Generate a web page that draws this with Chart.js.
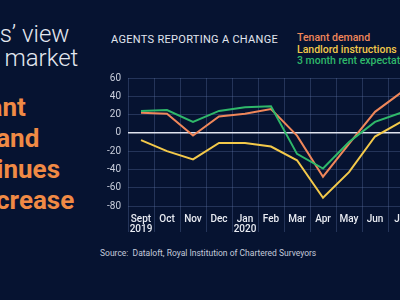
<!DOCTYPE html>
<html lang="en">
<head>
<meta charset="UTF-8">
<title>Agents reporting a change</title>
<script src="https://cdn.jsdelivr.net/npm/chart.js@4.4.0/dist/chart.umd.min.js"></script>
<style>
  html, body { margin:0; padding:0; width:400px; height:300px; overflow:hidden; background:#061331; font-family:Roboto, "Noto Sans", sans-serif; }
  #wrap { position:relative; width:400px; height:300px; overflow:hidden; }
  .lead { position:absolute; left:-62px; top:22px; color:#e4e8f0; font-size:24px; font-weight:300; line-height:24px; white-space:nowrap; }
  .head { position:absolute; left:-55px; top:92px; color:#f08a45; font-size:26px; font-weight:700; line-height:31px; white-space:nowrap; }
  .title { position:absolute; left:111px; top:33px; color:#e2e6ef; font-size:11px; letter-spacing:0.3px; white-space:nowrap; }
  .legend { position:absolute; left:297px; top:32px; font-size:10.5px; font-weight:500; line-height:11.5px; white-space:nowrap; }
  .src { position:absolute; left:100px; top:248px; color:#c4cadb; font-size:8.5px; white-space:nowrap; }
  #box { position:absolute; left:95px; top:65px; width:325px; height:180px; }
</style>
</head>
<body>
<div id="wrap">
  <div class="lead">Agents’ view<br>of the market</div>
  <div class="head">Tenant<br>demand<br>continues<br>to increase</div>
  <div class="title">AGENTS REPORTING A CHANGE</div>
  <div class="legend">
    <div style="color:#f0875a">Tenant demand</div>
    <div style="color:#f3c94a">Landlord instructions</div>
    <div style="color:#2fb86a">3 month rent expectations</div>
  </div>
  <div class="src">Source:&nbsp; Dataloft, Royal Institution of Chartered Surveyors</div>
  <div id="box"><canvas id="chart"></canvas></div>
</div>
<script>
const months = [['Sept','2019'],'Oct','Nov','Dec',['Jan','2020'],'Feb','Mar','Apr','May','Jun','Jul']
const tenantDemand = [22, 21, -3, 18, 21, 26, -3, -48, -12, 23, 44]
const landlordInstructions = [-8, -20, -29, -11, -11, -15, -30, -71, -43, -4, 12]
const rentExpectations = [24, 25, 12, 24, 28, 29, -23, -39, -10, 12, 22]

const gridColor = 'rgba(95,115,165,0.35)'

const ctx = document.getElementById('chart').getContext('2d')
new Chart(ctx, {
  type: 'line',
  data: {
    labels: months,
    datasets: [
      { label: '3 month rent expectations', data: rentExpectations, borderColor: '#2fb86a', borderWidth: 2, pointRadius: 0, tension: 0 },
      { label: 'Tenant demand', data: tenantDemand, borderColor: '#f0875a', borderWidth: 2, pointRadius: 0, tension: 0 },
      { label: 'Landlord instructions', data: landlordInstructions, borderColor: '#f3c94a', borderWidth: 2, pointRadius: 0, tension: 0 }
    ]
  },
  options: {
    responsive: true,
    maintainAspectRatio: false,
    animation: false,
    layout: { padding: { top: 3, right: 6, left: 0, bottom: 0 } },
    plugins: { legend: { display: false }, tooltip: { enabled: false } },
    scales: {
      x: {
        offset: true,
        grid: { offset: true, color: gridColor, tickLength: 26, tickColor: gridColor },
        border: { display: false },
        ticks: { color: '#e8ebf2', padding: -18, maxRotation: 0, autoSkip: false, font: { family: 'Roboto', size: 10, weight: '500', lineHeight: 1.0 } },
        afterFit: s => { s.height = 39 }
      },
      y: {
        min: -80, max: 60,
        grid: {
          drawTicks: false,
          color: c => c.tick && c.tick.value === 0 ? '#dfe3ee' : gridColor,
          lineWidth: c => c.tick && c.tick.value === 0 ? 1.5 : 1
        },
        border: { display: false },
        ticks: { stepSize: 20, color: '#c9cedc', padding: 7, font: { family: 'Roboto', size: 10 } },
        afterFit: s => { s.width = 33 }
      }
    }
  }
})
</script>
</body>
</html>
